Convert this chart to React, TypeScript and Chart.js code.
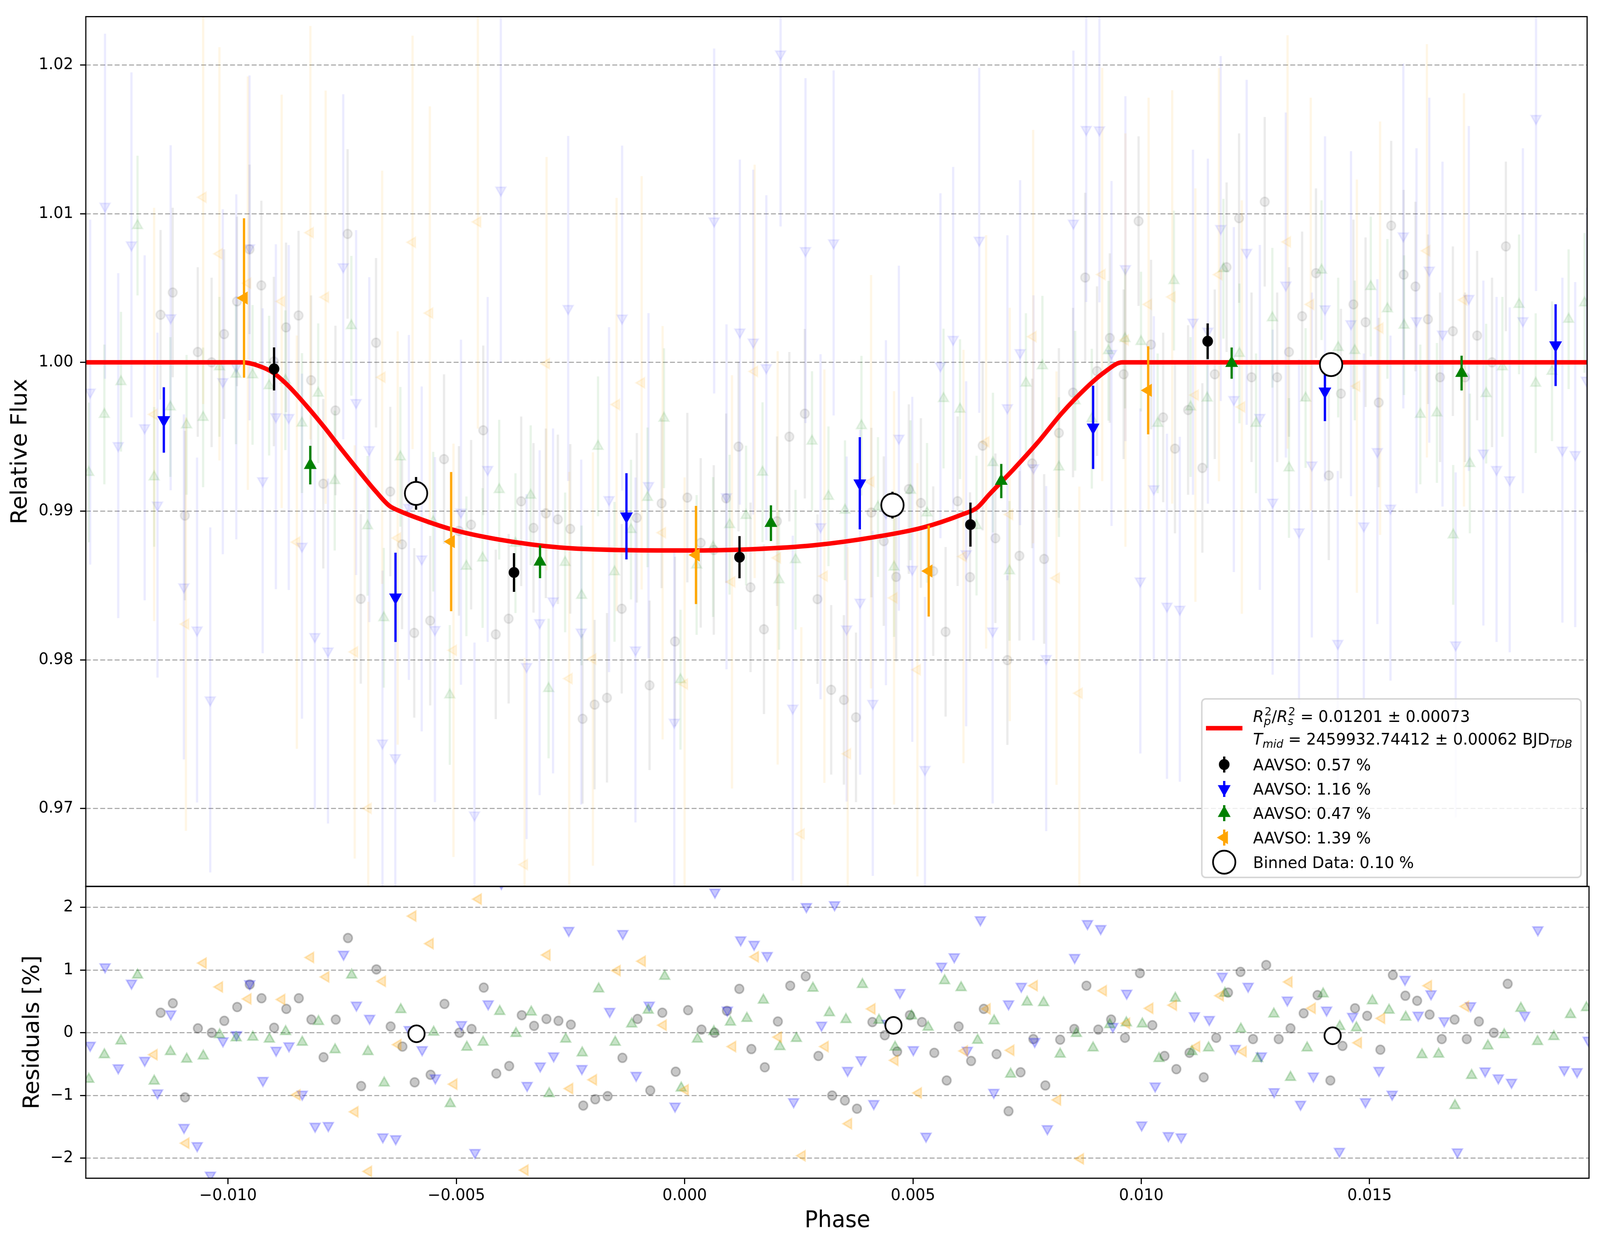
import { useEffect, useRef } from 'react'
import { Chart, registerables } from 'chart.js'
import { drawPoint } from 'chart.js/helpers'

Chart.register(...registerables)

const W = 4215
const H = 3192
const FONT = '"DejaVu Sans", sans-serif'
const GRID = '#a8a8a8'

// axis limits and ticks
const phaseMin = -0.013115
const phaseMax = 0.019805
const fluxMin = 0.96476
const fluxMax = 1.02325
const residMin = -2.3188
const residMax = 2.3325
const phaseTicks = [-0.01, -0.005, 0, 0.005, 0.01, 0.015]
const fluxTicks = [0.97, 0.98, 0.99, 1.0, 1.01, 1.02]
const residTicks = [-2, -1, 0, 1, 2]

// transit model
const modelPhase = [-0.013115, -0.00968, -0.009346, -0.009014, -0.008683, -0.008285, -0.007888, -0.00749, -0.007092, -0.006761, -0.006456, -0.00623, -0.006032, -0.005104, -0.004043, -0.002718, -0.001392, 0.000066, 0.001524, 0.002849, 0.004175, 0.005235, 0.006097, 0.00643, 0.006694, 0.007224, 0.007754, 0.008285, 0.008815, 0.009213, 0.00961, 0.019805]
const modelFlux = [1.0, 1.0, 0.99979, 0.99932, 0.99845, 0.99711, 0.99565, 0.99408, 0.99256, 0.99134, 0.99035, 0.99, 0.98975, 0.98878, 0.98808, 0.98755, 0.98738, 0.98735, 0.98744, 0.9877, 0.98825, 0.98889, 0.98977, 0.99023, 0.99111, 0.9928, 0.9946, 0.99658, 0.99827, 0.99932, 1.0, 1.0]

// individual observations: phase and residual [%]
const grayPhase = [-0.011476, -0.011209, -0.010942, -0.01066, -0.010356, -0.010082, -0.0098, -0.009525, -0.009266, -0.008991, -0.008724, -0.00845, -0.008175, -0.007908, -0.007641, -0.007374, -0.007085, -0.006751, -0.006439, -0.00618, -0.005913, -0.005564, -0.00526, -0.004933, -0.004666, -0.0044, -0.004125, -0.003843, -0.003568, -0.003298, -0.003027, -0.002764, -0.002492, -0.002221, -0.001958, -0.001687, -0.001363, -0.001032, -0.000753, -0.000489, -0.000196, 0.000075, 0.000369, 0.000655, 0.000926, 0.001197, 0.001461, 0.001755, 0.002041, 0.002312, 0.002651, 0.002929, 0.00323, 0.003509, 0.003773, 0.004111, 0.004383, 0.004654, 0.004932, 0.005196, 0.005467, 0.005738, 0.006001, 0.006273, 0.006551, 0.00683, 0.007093, 0.007357, 0.007636, 0.007899, 0.008223, 0.008533, 0.008799, 0.009058, 0.009339, 0.009643, 0.00997, 0.010243, 0.010509, 0.010768, 0.011056, 0.011368, 0.011641, 0.0119, 0.012173, 0.012447, 0.012736, 0.013009, 0.013268, 0.013556, 0.01386, 0.014141, 0.014407, 0.014681, 0.014947, 0.015236, 0.015509, 0.015783, 0.016041, 0.016315, 0.016581, 0.016862, 0.017128, 0.017394, 0.01772, 0.018024]
const grayResid = [0.32, 0.47, -1.03, 0.07, 0.0, 0.19, 0.41, 0.77, 0.55, 0.08, 0.38, 0.55, 0.21, -0.39, 0.21, 1.51, -0.85, 1.01, 0.1, -0.22, -0.79, -0.67, 0.46, 0.0, 0.06, 0.72, -0.65, -0.53, 0.28, 0.11, 0.22, 0.19, 0.13, -1.16, -1.06, -1.01, -0.4, 0.22, -0.92, 0.32, -0.62, 0.36, 0.05, 0.0, 0.35, 0.7, -0.26, -0.55, 0.18, 0.75, 0.9, -0.37, -1.0, -1.08, -1.21, 0.17, -0.04, -0.3, 0.28, 0.17, -0.32, -0.76, 0.1, -0.45, 0.38, -0.34, -1.25, -0.63, -0.1, -0.84, -0.11, 0.06, 0.75, 0.05, 0.21, -0.08, 0.95, 0.12, -0.37, -0.58, -0.32, -0.71, -0.08, 0.64, 0.97, -0.1, 1.08, -0.1, 0.07, 0.31, 0.6, -0.76, -0.21, 0.39, 0.27, -0.27, 0.92, 0.59, 0.51, 0.29, -0.1, 0.21, -0.1, 0.18, 0.0, 0.78]

const bluePhase = [-0.013019, -0.012693, -0.012404, -0.012114, -0.011825, -0.011543, -0.011254, -0.010964, -0.010675, -0.010386, -0.010111, -0.009815, -0.009525, -0.009236, -0.008947, -0.008665, -0.008375, -0.008093, -0.007804, -0.00747, -0.007188, -0.006899, -0.00661, -0.006328, -0.006031, -0.005749, -0.00546, -0.004889, -0.004592, -0.004303, -0.004014, -0.00345, -0.003163, -0.002869, -0.002538, -0.002251, -0.001642, -0.001355, -0.001062, -0.000776, -0.000211, 0.000663, 0.000934, 0.001227, 0.001521, 0.001807, 0.00212, 0.002387, 0.002666, 0.002997, 0.003283, 0.003569, 0.003863, 0.004142, 0.00443, 0.004714, 0.005008, 0.005286, 0.005625, 0.005904, 0.00619, 0.006476, 0.00677, 0.007093, 0.007372, 0.007666, 0.007944, 0.008541, 0.008822, 0.009111, 0.009377, 0.009681, 0.010008, 0.010304, 0.010593, 0.010874, 0.011163, 0.011489, 0.011771, 0.012059, 0.01234, 0.012629, 0.01291, 0.013199, 0.013488, 0.013769, 0.014058, 0.014339, 0.014628, 0.014909, 0.015205, 0.015494, 0.015775, 0.016064, 0.016345, 0.016634, 0.016923, 0.017211, 0.01753, 0.017819, 0.018108, 0.018397, 0.018685, 0.019263, 0.019544, 0.019787]
const blueResid = [-0.2, 1.05, -0.56, 0.79, -0.44, -0.96, 0.3, -1.51, -1.8, -2.27, -0.13, -0.03, 0.78, -0.76, -0.28, -0.21, -0.98, -1.49, -1.48, 1.25, 0.44, 0.23, -1.66, -1.69, 0.05, -0.27, -0.72, 0.13, -1.91, 0.46, 2.38, -0.84, -0.53, -0.37, 1.63, -0.57, 0.34, 1.58, -0.68, 0.44, -1.17, 2.24, 0.36, 1.48, 1.41, 1.23, 3.36, -1.1, 2.01, 0.12, 2.04, -0.6, -0.43, -1.13, 0.15, 0.64, -0.27, -1.65, 1.06, 1.21, -0.28, 1.8, -0.95, 0.46, 0.74, -0.14, -1.53, 1.2, 1.74, 1.66, 0.1, 0.63, -1.47, -0.85, -1.64, -1.66, 0.27, 0.21, 0.9, -0.25, 0.74, -0.37, -0.94, 0.52, -1.14, -0.69, 0.36, -1.89, 0.26, -1.1, -0.6, -0.98, 0.85, 0.28, 0.62, 0.19, -1.9, 0.43, -0.61, -0.72, -0.79, 0.28, 1.64, -0.59, -0.62, -0.12]

const greenPhase = [-0.01305, -0.012708, -0.012344, -0.011981, -0.011617, -0.011261, -0.010905, -0.010542, -0.010185, -0.009822, -0.009458, -0.009095, -0.008739, -0.008375, -0.008019, -0.007656, -0.007292, -0.006936, -0.00658, -0.006217, -0.005497, -0.005134, -0.00477, -0.004414, -0.00405, -0.003694, -0.00336, -0.002967, -0.002605, -0.002244, -0.001883, -0.001521, -0.00116, -0.000798, -0.000437, -0.000075, 0.000279, 0.00064, 0.001002, 0.001363, 0.001724, 0.002086, 0.002447, 0.002809, 0.00317, 0.003532, 0.003893, 0.004255, 0.004608, 0.00497, 0.005331, 0.005693, 0.006054, 0.006416, 0.006777, 0.007139, 0.0075, 0.007861, 0.008223, 0.008579, 0.008944, 0.009309, 0.009673, 0.010023, 0.010388, 0.010745, 0.01111, 0.011474, 0.011831, 0.012181, 0.012546, 0.012903, 0.013268, 0.013632, 0.013982, 0.014347, 0.014711, 0.015061, 0.015426, 0.015791, 0.016148, 0.016512, 0.016869, 0.017234, 0.017591, 0.017948, 0.018313, 0.018678, 0.019035, 0.0194, 0.01975]
const greenResid = [-0.74, -0.35, -0.13, 0.92, -0.77, -0.3, -0.42, -0.37, -0.03, -0.08, -0.07, -0.1, 0.02, -0.15, 0.18, -0.27, 0.92, -0.3, -0.8, 0.37, 0.01, -1.13, -0.23, -0.15, 0.34, -0.01, 0.33, -0.97, -0.1, -0.32, 0.7, -0.15, 0.14, 0.36, 0.9, -0.88, -0.1, 0.02, 0.17, 0.23, 0.52, -0.22, -0.09, 0.71, 0.32, 0.21, 0.77, 0.2, -0.23, 0.27, 0.09, 0.83, 0.72, -0.12, 0.19, -0.66, 0.49, 0.48, -0.34, -0.01, -0.24, 0.13, 0.16, 0.14, -0.41, 0.55, -0.3, -0.24, 0.63, 0.06, -0.41, 0.3, -0.71, -0.24, 0.62, 0.1, 0.08, 0.51, 0.36, 0.25, -0.35, -0.34, -1.16, -0.68, -0.21, -0.03, 0.39, -0.14, -0.06, 0.29, 0.4]

const orangePhase = [-0.011617, -0.01092, -0.010542, -0.010185, -0.009562, -0.00882, -0.008487, -0.00819, -0.007856, -0.007218, -0.006921, -0.006617, -0.006276, -0.00595, -0.005571, -0.005052, -0.004518, -0.003494, -0.003012, -0.002515, -0.001995, -0.001476, -0.000926, -0.000467, 0.000015, 0.001054, 0.001551, 0.002056, 0.002575, 0.00308, 0.003592, 0.004104, 0.004608, 0.00512, 0.00613, 0.006627, 0.007146, 0.007658, 0.00817, 0.00867, 0.009172, 0.009681, 0.01019, 0.010707, 0.011216, 0.011733, 0.012234, 0.013237, 0.013746, 0.014757, 0.015266, 0.016292, 0.017105]
const orangeResid = [-0.35, -1.76, 1.11, 0.73, 0.54, 0.53, -0.99, 1.2, 0.89, -1.26, -2.21, 0.82, -0.19, 1.86, 1.42, -0.82, 2.13, -2.19, 1.24, -0.89, -0.75, 0.99, 1.14, 0.12, -0.91, -0.22, 1.21, -0.07, -1.96, -0.22, -1.45, 0.38, -0.44, -0.96, -0.29, 0.38, -0.28, 0.75, -1.07, -2.01, 0.67, 0.15, 0.39, 0.44, -0.22, 0.59, -0.3, 0.81, 0.39, -0.16, 0.23, 0.75, 0.42]

// error of the single points (flux units), one per series
const grayErr = 0.0057
const blueErr = 0.0116
const greenErr = 0.0047
const orangeErr = 0.0139

// per-series bins
const grayBinPhase = [-0.008987, -0.003726, 0.001219, 0.006283, 0.011485]
const grayBinFlux = [0.99956, 0.98587, 0.9869, 0.98909, 1.00142]
const grayBinErr = [0.00145, 0.0013, 0.00142, 0.00148, 0.0012]
const blueBinPhase = [-0.011404, -0.006324, -0.00126, 0.003857, 0.008973, 0.014056, 0.019114]
const blueBinFlux = [0.99613, 0.9842, 0.98965, 0.99187, 0.99563, 0.99805, 1.00116]
const blueBinErr = [0.0022, 0.003, 0.0029, 0.0031, 0.0028, 0.002, 0.00275]
const greenBinPhase = [-0.008193, -0.003155, 0.001908, 0.006959, 0.012011, 0.017053]
const greenBinFlux = [0.99309, 0.98659, 0.98919, 0.99202, 0.99995, 0.99928]
const greenBinErr = [0.0013, 0.0011, 0.0012, 0.00115, 0.00105, 0.00117]
const orangeBinPhase = [-0.009646, -0.005104, 0.000265, 0.005368, 0.01018]
const orangeBinFlux = [1.00433, 0.98795, 0.98705, 0.98597, 0.99812]
const orangeBinErr = [0.00536, 0.00468, 0.0033, 0.00306, 0.00296]

// combined bins
const binnedPhase = [-0.005873, 0.004573, 0.014191]
const binnedFlux = [0.99119, 0.9904, 0.99985]
const binnedErr = [0.0011, 0.0009, 0.0008]
const binnedResid = [-0.016, 0.117, -0.048]

const seriesLabels = ['AAVSO: 0.57 %', 'AAVSO: 1.16 %', 'AAVSO: 0.47 %', 'AAVSO: 1.39 %']
const binnedLabel = 'Binned Data: 0.10 %'

const series = [
  { phase: grayPhase, resid: grayResid, err: grayErr, bx: grayBinPhase, by: grayBinFlux, be: grayBinErr, rgb: [0, 0, 0], style: 'circle', rot: 0, faintA: 0.08, resA: 0.22 },
  { phase: bluePhase, resid: blueResid, err: blueErr, bx: blueBinPhase, by: blueBinFlux, be: blueBinErr, rgb: [0, 0, 255], style: 'triangle', rot: 180, faintA: 0.08, resA: 0.22 },
  { phase: greenPhase, resid: greenResid, err: greenErr, bx: greenBinPhase, by: greenBinFlux, be: greenBinErr, rgb: [0, 128, 0], style: 'triangle', rot: 0, faintA: 0.09, resA: 0.22 },
  { phase: orangePhase, resid: orangeResid, err: orangeErr, bx: orangeBinPhase, by: orangeBinFlux, be: orangeBinErr, rgb: [255, 165, 0], style: 'triangle', rot: 270, faintA: 0.1, resA: 0.25 },
]

const rgba = (c: number[], a: number) => `rgba(${c[0]},${c[1]},${c[2]},${a})`

function modelAt(x: number) {
  for (let i = 1; i < modelPhase.length; i++) {
    if (x <= modelPhase[i]) {
      const t = (x - modelPhase[i - 1]) / (modelPhase[i] - modelPhase[i - 1])
      return modelFlux[i - 1] + t * (modelFlux[i] - modelFlux[i - 1])
    }
  }
  return modelFlux[modelFlux.length - 1]
}

function barData(xs: number[], ys: number[], err: number[] | number) {
  const out: any[] = []
  xs.forEach((x, i) => {
    const e = typeof err === 'number' ? err : err[i]
    out.push({ x, y: ys[i] - e }, { x, y: ys[i] + e }, { x, y: null })
  })
  return out
}

const pts = (xs: number[], ys: number[]) => xs.map((x, i) => ({ x, y: ys[i] }))
const markerRadius = (style: string) => (style === 'circle' ? 11.5 : 15)

const fmtFlux = (v: number) => v.toFixed(2)
const fmtResid = (v: number) => (v < 0 ? '\u2212' + Math.abs(v) : String(v))
const fmtPhase = (v: number) => (v < -1e-9 ? '\u2212' : '') + Math.abs(v).toFixed(3)

const tickFont = { family: FONT, size: 41 }
const titleFont = { family: FONT, size: 58, lineHeight: 1.2 }

function yAxis(min: number, max: number, ticks: number[], fmt: (v: number) => string, title: string, pad: number) {
  return {
    type: 'linear',
    position: 'left',
    min,
    max,
    bounds: 'data',
    afterBuildTicks: (s: any) => { s.ticks = ticks.map((v) => ({ value: v })) },
    afterFit: (s: any) => { s.width = 226 },
    ticks: { callback: (v: any) => fmt(Number(v)), font: tickFont, color: '#000', padding: 18, autoSkip: false },
    grid: { color: GRID, lineWidth: 2.7, drawTicks: true, tickLength: 15, tickWidth: 3, tickColor: '#000' },
    border: { display: false, dash: [13, 6] },
    title: { display: true, text: title, font: titleFont, color: '#000', padding: { top: pad, bottom: 0 } },
  }
}

const frame = {
  id: 'frame',
  afterDatasetsDraw(chart: any) {
    const { left, top, right, bottom } = chart.chartArea
    const ctx = chart.ctx
    ctx.save()
    ctx.strokeStyle = '#000'
    ctx.lineWidth = 3
    ctx.strokeRect(left, top, right - left, bottom - top)
    ctx.restore()
  },
}

type Run = { text?: string; italic?: boolean; sub?: string; sup?: string; subItalic?: boolean }

function drawRich(ctx: CanvasRenderingContext2D, runs: Run[], x: number, y: number) {
  const f = (size: number, it?: boolean) => `${it ? 'italic ' : ''}${size}px ${FONT}`
  let cx = x
  for (const r of runs) {
    if (r.text) {
      ctx.font = f(41, r.italic)
      ctx.fillText(r.text, cx, y)
      cx += ctx.measureText(r.text).width
    }
    let w = 0
    if (r.sup) {
      ctx.font = f(29)
      ctx.fillText(r.sup, cx + 2, y - 17)
      w = Math.max(w, ctx.measureText(r.sup).width + 2)
    }
    if (r.sub) {
      ctx.font = f(29, r.subItalic)
      ctx.fillText(r.sub, cx, y + 8)
      w = Math.max(w, ctx.measureText(r.sub).width)
    }
    cx += w
  }
}

const legend = {
  id: 'fitLegend',
  afterDraw(chart: any) {
    const ctx: CanvasRenderingContext2D = chart.ctx
    ctx.save()
    ctx.beginPath()
    ctx.roundRect(3166, 1789, 999, 457, 10)
    ctx.fillStyle = 'rgba(255,255,255,0.8)'
    ctx.fill()
    ctx.lineWidth = 4
    ctx.strokeStyle = 'rgba(204,204,204,0.8)'
    ctx.stroke()

    const hx = 3225
    const tx = 3301
    ctx.strokeStyle = '#ff0000'
    ctx.lineWidth = 11.5
    ctx.beginPath()
    ctx.moveTo(3177, 1864)
    ctx.lineTo(3273, 1864)
    ctx.stroke()

    ctx.fillStyle = '#000'
    ctx.textAlign = 'left'
    ctx.textBaseline = 'alphabetic'
    drawRich(ctx, [
      { text: 'R', italic: true }, { sub: 'p', sup: '2', subItalic: true },
      { text: '/' }, { text: 'R', italic: true }, { sub: 's', sup: '2', subItalic: true },
      { text: ' = 0.01201 \u00b1 0.00073' },
    ], tx, 1848)
    drawRich(ctx, [
      { text: 'T', italic: true }, { sub: 'mid', subItalic: true },
      { text: ' = 2459932.74412 \u00b1 0.00062 BJD' }, { sub: 'TDB', subItalic: true },
    ], tx, 1906)

    const rows = [1957, 2019.5, 2081.5, 2144]
    series.forEach((s, i) => {
      const cy = rows[i]
      const col = rgba(s.rgb, 1)
      ctx.strokeStyle = col
      ctx.lineWidth = 6
      ctx.beginPath()
      ctx.moveTo(hx, cy - 20.5)
      ctx.lineTo(hx, cy + 20.5)
      ctx.stroke()
      ctx.fillStyle = col
      ctx.lineWidth = 4
      drawPoint(ctx, { pointStyle: s.style, rotation: s.rot, radius: markerRadius(s.style) + 0.5, borderWidth: 4 } as any, hx, cy)
      ctx.fillStyle = '#000'
      ctx.font = `41px ${FONT}`
      ctx.fillText(seriesLabels[i], tx, cy + 14.5)
    })
    ctx.fillStyle = '#fff'
    ctx.strokeStyle = '#000'
    ctx.lineWidth = 4.5
    drawPoint(ctx, { pointStyle: 'circle', rotation: 0, radius: 29.5, borderWidth: 4.5 } as any, hx, 2207)
    ctx.fillStyle = '#000'
    ctx.font = `41px ${FONT}`
    ctx.fillText(binnedLabel, tx, 2207 + 14.5)
    ctx.restore()
  },
}

function withOrder(list: any[]) {
  list.forEach((d, i) => { d.order = list.length - i; d.clip = 0 })
  return list
}

function mainConfig(): any {
  const ds: any[] = []
  series.forEach((s) => {
    const flux = s.phase.map((x, i) => modelAt(x) * (1 + s.resid[i] / 100))
    ds.push({ type: 'line', data: barData(s.phase, flux, s.err), borderColor: rgba(s.rgb, s.faintA), borderWidth: 6, pointRadius: 0, spanGaps: false })
    ds.push({
      type: 'scatter', data: pts(s.phase, flux), pointStyle: s.style, pointRotation: s.rot, pointRadius: markerRadius(s.style),
      pointBackgroundColor: rgba(s.rgb, s.faintA), pointBorderColor: rgba(s.rgb, s.faintA), pointBorderWidth: 4,
    })
  })
  ds.push({
    type: 'line', data: pts(modelPhase, modelFlux), borderColor: '#ff0000', borderWidth: 11.5, pointRadius: 0,
    cubicInterpolationMode: 'monotone',
  })
  series.forEach((s) => {
    const col = rgba(s.rgb, 1)
    ds.push({ type: 'line', data: barData(s.bx, s.by, s.be), borderColor: col, borderWidth: 6, pointRadius: 0, spanGaps: false })
    ds.push({
      type: 'scatter', data: pts(s.bx, s.by), pointStyle: s.style, pointRotation: s.rot, pointRadius: markerRadius(s.style) + 0.5,
      pointBackgroundColor: col, pointBorderColor: col, pointBorderWidth: 4,
    })
  })
  ds.push({ type: 'line', data: barData(binnedPhase, binnedFlux, binnedErr), borderColor: '#000', borderWidth: 6, pointRadius: 0, spanGaps: false })
  ds.push({
    type: 'scatter', data: pts(binnedPhase, binnedFlux), pointStyle: 'circle', pointRadius: 29.5,
    pointBackgroundColor: '#fff', pointBorderColor: '#000', pointBorderWidth: 4.5,
  })

  return {
    type: 'scatter',
    data: { datasets: withOrder(ds) },
    options: {
      animation: false,
      responsive: false,
      devicePixelRatio: 1,
      events: [],
      layout: { padding: { left: 0, right: W - 4186, top: 30, bottom: H - 2269 } },
      plugins: { legend: { display: false }, tooltip: { enabled: false } },
      scales: {
        x: { type: 'linear', display: false, min: phaseMin, max: phaseMax, bounds: 'data' },
        y: yAxis(fluxMin, fluxMax, fluxTicks, fmtFlux, 'Relative Flux', 20),
      },
    },
    plugins: [frame, legend],
  }
}

function residConfig(): any {
  const ds: any[] = []
  series.forEach((s) => {
    ds.push({
      type: 'scatter', data: pts(s.phase, s.resid), pointStyle: s.style, pointRotation: s.rot, pointRadius: markerRadius(s.style),
      pointBackgroundColor: rgba(s.rgb, s.resA), pointBorderColor: rgba(s.rgb, s.resA), pointBorderWidth: 4,
    })
  })
  ds.push({
    type: 'scatter', data: pts(binnedPhase, binnedResid), pointStyle: 'circle', pointRadius: 21.5,
    pointBackgroundColor: '#fff', pointBorderColor: '#000', pointBorderWidth: 4.5,
  })

  return {
    type: 'scatter',
    data: { datasets: withOrder(ds) },
    options: {
      animation: false,
      responsive: false,
      devicePixelRatio: 1,
      events: [],
      layout: { padding: { left: 0, right: W - 4186, top: 2269, bottom: 0 } },
      plugins: { legend: { display: false }, tooltip: { enabled: false } },
      scales: {
        x: {
          type: 'linear',
          position: 'bottom',
          min: phaseMin,
          max: phaseMax,
          bounds: 'data',
          afterBuildTicks: (s: any) => { s.ticks = phaseTicks.map((v) => ({ value: v })) },
          afterFit: (s: any) => { s.height = H - 3016 },
          ticks: { callback: (v: any) => fmtPhase(Number(v)), font: tickFont, color: '#000', padding: 6, maxRotation: 0, autoSkip: false },
          grid: { drawOnChartArea: false, drawTicks: true, tickLength: 15, tickWidth: 3, tickColor: '#000' },
          border: { display: false },
          title: { display: true, text: 'Phase', font: titleFont, color: '#000', padding: { top: 0, bottom: 31 } },
        },
        y: yAxis(residMin, residMax, residTicks, fmtResid, 'Residuals [%]', 52),
      },
    },
    plugins: [frame],
  }
}

export default function App() {
  const mainRef = useRef<HTMLCanvasElement>(null)
  const residRef = useRef<HTMLCanvasElement>(null)

  useEffect(() => {
    if (!mainRef.current || !residRef.current) return
    document.body.style.margin = '0'
    const main = new Chart(mainRef.current, mainConfig())
    const resid = new Chart(residRef.current, residConfig())
    return () => {
      main.destroy()
      resid.destroy()
    }
  }, [])

  // the browser viewport may be narrower than the figure; fit the figure to it
  const viewW = typeof window !== 'undefined' ? Math.min(window.innerWidth || W, W) : W
  const viewH = typeof window !== 'undefined' ? Math.min(window.innerHeight || H, H) : H
  const canvasStyle: any = { position: 'absolute', left: 0, top: 0, width: viewW, height: viewH }
  return (
    <div style={{ position: 'absolute', left: 0, top: 0, width: viewW, height: viewH, background: '#fff', overflow: 'hidden' }}>
      <canvas ref={mainRef} width={W} height={H} style={canvasStyle} />
      <canvas ref={residRef} width={W} height={H} style={canvasStyle} />
    </div>
  )
}
